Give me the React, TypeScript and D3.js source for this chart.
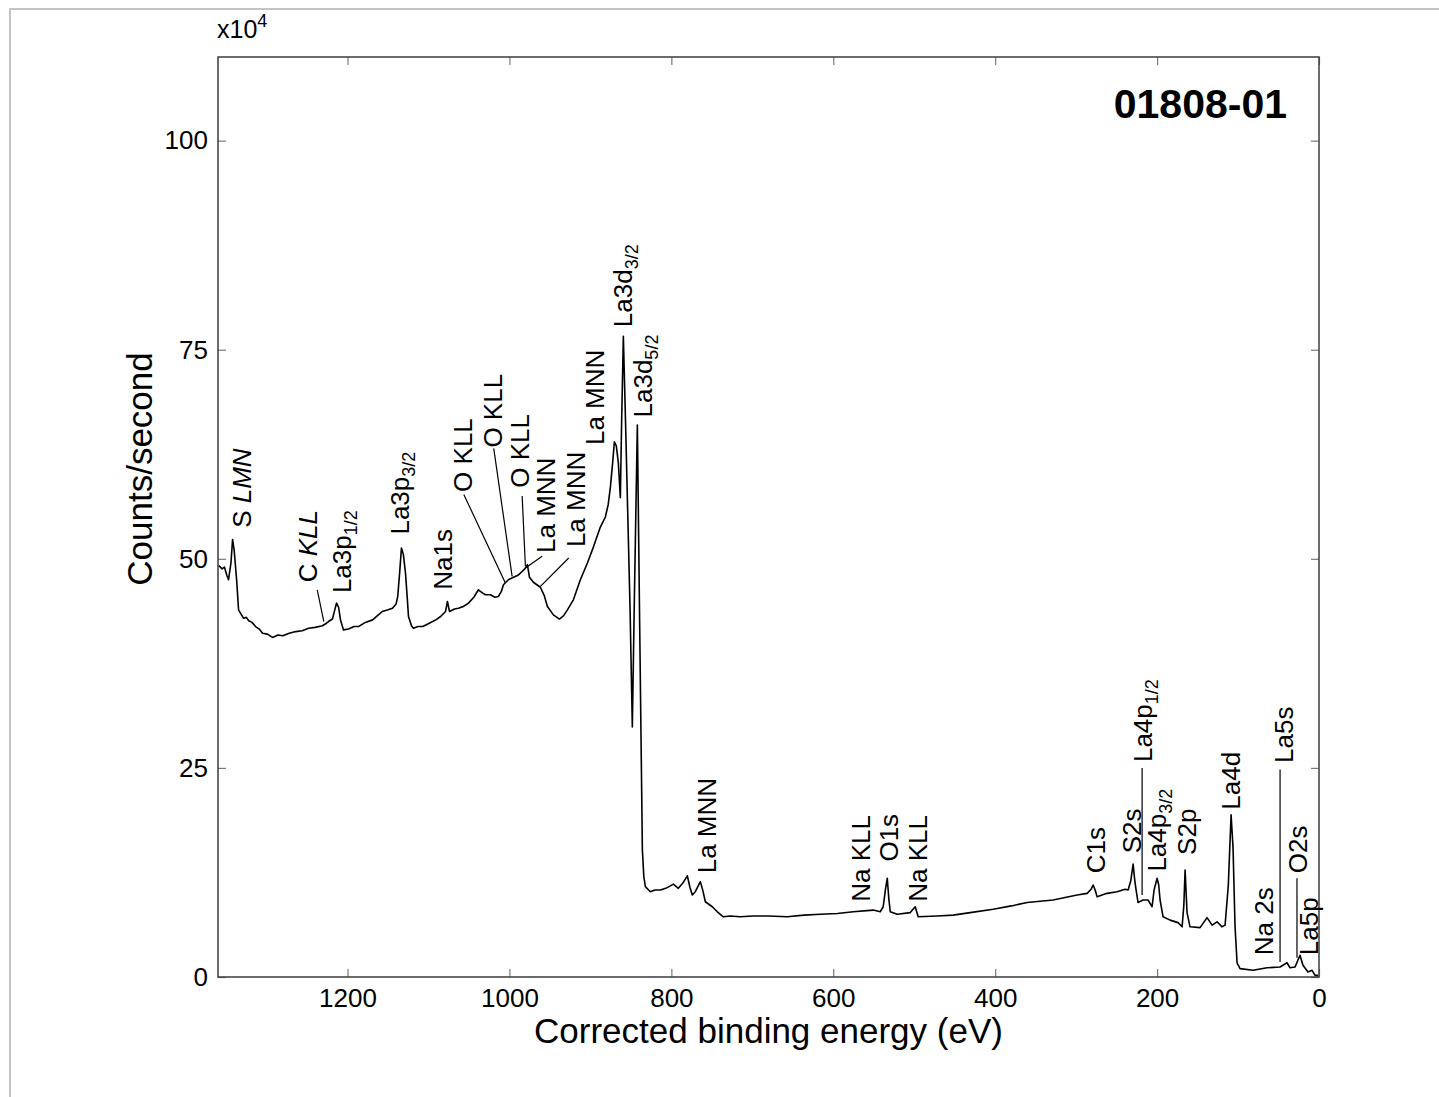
import React, { useEffect, useRef } from 'react'
import * as d3 from 'd3'

// survey spectrum: binding energy (eV) and intensity (x10^4 counts/second)
const bindingEnergy = [
  1359, 1355, 1352, 1349, 1347, 1344, 1342, 1340, 1337, 1334.6, 1331, 1328.4, 1325, 1322, 1318, 1313.6,
  1309, 1305, 1299, 1292.6, 1286, 1280, 1272, 1264, 1256, 1248, 1240, 1231, 1226, 1223.5, 1218.6, 1216,
  1213.6, 1211, 1208.7, 1205, 1198.8, 1192, 1186.5, 1178, 1169, 1163, 1157, 1150, 1144.5, 1140, 1138,
  1135.5, 1133.4, 1131, 1128.4, 1126, 1124.7, 1121, 1118.6, 1113, 1107, 1099, 1091, 1085, 1079, 1076.6,
  1074, 1068, 1063, 1057, 1050.6, 1044, 1038.3, 1033, 1029.6, 1023.5, 1018, 1013.6, 1010, 1007.4, 1001.3,
  995.1, 990, 986.4, 981, 977.8, 975.3, 970.4, 961.8, 957, 953.1, 945.7, 938.3, 933, 928.4, 921, 912.4,
  903.7, 896.3, 887.7, 881.5, 878, 875.3, 872.5, 870.4, 868, 865.5, 863, 861.5, 859.3, 856.5, 854.3, 851,
  848.2, 845.7, 842, 839.5, 837, 835.8, 834, 832.1, 826, 820, 813.6, 807, 801.2, 797.5, 791.4, 786, 780.3,
  777, 774.1, 770.4, 764.2, 761, 758, 749.4, 743.2, 735.8, 727.2, 715, 698.8, 680, 656.8, 636, 616, 595,
  575.3, 550.6, 542, 538.3, 535.5, 533.3, 531.5, 529.6, 521, 504.9, 498.8, 495.1, 471.6, 451.9, 430.9,
  402.5, 380, 360.5, 328.4, 298.8, 286.4, 281.5, 279, 276.5, 274.1, 268, 261.7, 249.4, 239.5, 235.8, 232.5,
  229.6, 227.5, 225.9, 223.5, 217.3, 211.1, 206.2, 203.7, 200, 198, 196.3, 192.6, 184, 174.1, 169.1, 167,
  165.4, 163, 159.3, 146.9, 138.3, 132.1, 125.9, 119.8, 116, 112, 108.6, 106.2, 103.7, 101.2, 97.5, 81.5,
  64.2, 48.1, 39.5, 35.8, 29.6, 23.5, 19.8, 13.6, 8.6, 4.9, 1.2,
]
const counts = [
  49.2, 48.8, 49.0, 48.0, 47.5, 49.5, 52.3, 51.0, 47.5, 43.9, 43.3, 42.9, 43.0, 42.6, 42.4, 41.9,
  41.6, 41.1, 41.0, 40.6, 40.9, 40.8, 41.1, 41.3, 41.4, 41.7, 41.8, 42.0, 42.3, 42.5, 42.8, 43.8,
  44.7, 44.2, 42.7, 41.5, 41.6, 41.9, 41.9, 42.4, 42.7, 43.2, 43.7, 43.9, 44.1, 44.6, 45.5,
  48.5, 51.3, 50.5, 48.3, 45.0, 43.1, 42.0, 41.7, 41.9, 41.9, 42.3, 42.7, 43.1, 43.7, 44.9,
  43.7, 44.0, 44.1, 44.3, 44.7, 45.4, 46.3, 45.9, 45.7, 45.7, 45.4, 45.5, 46.1, 46.9, 47.5,
  47.8, 48.0, 48.3, 48.8, 49.3, 47.8, 47.2, 46.6, 45.6, 44.3, 43.3, 42.8, 43.2, 43.9, 45.1, 47.5,
  49.5, 51.4, 53.8, 55.0, 56.5, 58.6, 61.5, 64.0, 63.5, 61.5, 57.3, 66.0, 76.6, 66.0, 57.1, 44.0,
  29.9, 45.1, 66.0, 45.1, 25.0, 15.2, 12.0, 10.8, 10.2, 10.4, 10.4, 10.6, 10.9, 11.1, 10.6, 11.2, 12.1,
  10.7, 9.8, 10.2, 11.4, 10.3, 9.0, 8.4, 7.8, 7.2, 7.3, 7.2, 7.3, 7.3, 7.2, 7.4, 7.5, 7.6,
  7.8, 8.0, 7.8, 8.4, 10.5, 11.8, 9.5, 7.8, 7.5, 7.7, 8.4, 7.2, 7.3, 7.4, 7.7,
  8.1, 8.5, 8.9, 9.2, 9.8, 10.0, 10.5, 11.0, 10.4, 9.6, 9.8, 10.0, 10.2, 10.5, 10.4, 11.5,
  13.5, 11.5, 10.4, 8.9, 9.2, 9.2, 8.4, 10.4, 11.8, 11.0, 9.2, 7.2, 6.8, 6.5, 6.0, 8.5,
  12.8, 7.7, 6.0, 5.9, 7.1, 6.2, 6.6, 6.0, 6.2, 11.0, 19.4, 15.5, 6.0, 1.7, 1.0, 0.8,
  1.1, 1.2, 1.7, 1.1, 1.2, 2.6, 1.4, 0.6, 0.8, 0.2, 0.2,
]

const xTicks = [1200, 1000, 800, 600, 400, 200, 0]
const yTicks = [0, 25, 50, 75, 100]

// peak labels: [name, italic part, subscript, eV, counts] (start of the rotated text)
const peakLabels: [string, string, string, number, number][] = [
  ['S ', 'LMN', '', 1319.8, 53.7],
  ['C ', 'KLL', '', 1237.1, 47.2],
  ['La3p', '', '1/2', 1195.1, 45.9],
  ['La3p', '', '3/2', 1123.5, 52.9],
  ['Na1s', '', '', 1070.4, 46.3],
  ['O KLL', '', '', 1045.7, 58.0],
  ['O KLL', '', '', 1008.7, 63.3],
  ['O KLL', '', '', 975.3, 58.5],
  ['La MNN', '', '', 943.2, 50.7],
  ['La MNN', '', '', 906.2, 51.4],
  ['La MNN', '', '', 882.7, 63.6],
  ['La3d', '', '3/2', 848.2, 77.7],
  ['La3d', '', '5/2', 823.5, 66.9],
  ['La MNN', '', '', 744.5, 12.4],
  ['Na KLL', '', '', 554.3, 9.0],
  ['O1s', '', '', 519.8, 13.8],
  ['Na KLL', '', '', 484.0, 9.0],
  ['C1s', '', '', 264.2, 12.4],
  ['S2s', '', '', 219.8, 14.8],
  ['La4p', '', '1/2', 206.2, 25.7],
  ['La4p', '', '3/2', 188.9, 12.6],
  ['S2p', '', '', 151.9, 14.6],
  ['La4d', '', '', 97.5, 20.0],
  ['La5s', '', '', 32.1, 25.6],
  ['Na 2s', '', '', 56.8, 2.6],
  ['O2s', '', '', 14.8, 12.4],
  ['La5p', '', '', 1.2, 2.6],
]

// leader lines: [eV1, counts1, eV2, counts2]
const leaderLines: [number, number, number, number][] = [
  [1237.4, 46.3, 1229.3, 42.5],
  [1056.4, 57.7, 1005.0, 47.1],
  [1019.4, 63.2, 996.7, 47.9],
  [984.3, 57.5, 980.3, 49.1],
  [959.6, 50.3, 980.3, 48.9],
  [926.8, 50.1, 961.7, 46.7],
  [218.5, 25.0, 218.5, 9.8],
  [48.1, 24.8, 48.1, 1.8],
  [27.2, 11.8, 27.2, 2.3],
]

const font = '"Liberation Sans", Arial, sans-serif'

const App = () => {
  const ref = useRef<SVGSVGElement>(null)
  const width = 1439
  const height = 1097
  const margin = { top: 57, right: 120, bottom: 120, left: 218 }

  useEffect(() => {
    const svg = d3.select(ref.current)
    svg.selectAll('*').remove()

    const x = d3.scaleLinear().domain([1360, 0]).range([margin.left, width - margin.right])
    const y = d3.scaleLinear().domain([0, 110]).range([height - margin.bottom, margin.top])

    // light frame of the figure
    svg.append('path').attr('d', `M10,${height} V9 H${width}`)
      .attr('fill', 'none').attr('stroke', '#c4c4c4').attr('stroke-width', 2)

    const styleAxis = (g: any) => {
      g.select('.domain').remove()
      g.selectAll('.tick line').attr('stroke', '#7a7a7a').attr('stroke-width', 1.2)
      g.selectAll('.tick text').attr('fill', '#000')
      g.attr('font-size', 26).attr('font-family', font)
    }

    svg.append('g').attr('transform', `translate(0,${y(0)})`)
      .call(d3.axisBottom(x).tickValues(xTicks).tickFormat(d3.format('d'))
        .tickSizeInner(-8).tickSizeOuter(0).tickPadding(12))
      .call(styleAxis)
    svg.append('g').attr('transform', `translate(0,${y(110)})`)
      .call(d3.axisTop(x).tickValues(xTicks).tickSizeInner(-8).tickSizeOuter(0).tickFormat(() => ''))
      .call(styleAxis)
    svg.append('g').attr('transform', `translate(${x(1360)},0)`)
      .call(d3.axisLeft(y).tickValues(yTicks).tickFormat(d3.format('d'))
        .tickSizeInner(-8).tickSizeOuter(0).tickPadding(10))
      .call(styleAxis)
    svg.append('g').attr('transform', `translate(${x(0)},0)`)
      .call(d3.axisRight(y).tickValues(yTicks).tickSizeInner(-8).tickSizeOuter(0).tickFormat(() => ''))
      .call(styleAxis)

    svg.append('rect')
      .attr('x', x(1360)).attr('y', y(110))
      .attr('width', x(0) - x(1360)).attr('height', y(0) - y(110))
      .attr('fill', 'none').attr('stroke', '#3c3c3c').attr('stroke-width', 1.5)

    const line = d3.line<number>()
      .x((_, i) => x(bindingEnergy[i]))
      .y(d => y(d))
    svg.append('path').attr('d', line(counts))
      .attr('fill', 'none').attr('stroke', '#000').attr('stroke-width', 1.6)
      .attr('stroke-linejoin', 'round')

    leaderLines.forEach(([e1, c1, e2, c2]) => {
      svg.append('line')
        .attr('x1', x(e1)).attr('y1', y(c1)).attr('x2', x(e2)).attr('y2', y(c2))
        .attr('stroke', '#000').attr('stroke-width', 1.2)
    })

    peakLabels.forEach(([name, italic, sub, be, cps]) => {
      const t = svg.append('text')
        .attr('transform', `translate(${x(be)},${y(cps)}) rotate(-90)`)
        .attr('font-family', font).attr('font-size', 26)
        .style('white-space', 'pre')
      t.append('tspan').text(name)
      if (italic) t.append('tspan').attr('font-style', 'italic').text(italic)
      if (sub) t.append('tspan').attr('font-size', 18).attr('dy', 6).text(sub)
    })

    // axis titles
    svg.append('text')
      .attr('transform', `translate(${margin.left - 66},${(y(0) + y(110)) / 2 - 48}) rotate(-90)`)
      .attr('text-anchor', 'middle').attr('font-family', font).attr('font-size', 35)
      .text('Counts/second')
    svg.append('text')
      .attr('x', (x(1360) + x(0)) / 2).attr('y', y(0) + 66)
      .attr('text-anchor', 'middle').attr('font-family', font).attr('font-size', 35)
      .text('Corrected binding energy (eV)')

    const exp = svg.append('text')
      .attr('x', margin.left - 1).attr('y', 38)
      .attr('font-family', font).attr('font-size', 25)
    exp.append('tspan').text('x10')
    exp.append('tspan').attr('font-size', 18).attr('dy', -11).text('4')

    svg.append('text')
      .attr('x', x(0) - 32).attr('y', y(110) + 61)
      .attr('text-anchor', 'end').attr('font-family', font).attr('font-size', 41)
      .attr('font-weight', 'bold')
      .text('01808-01')
  }, [])

  return (
    <svg ref={ref} width={width} height={height}
      style={{ position: 'absolute', left: 0, top: 0, background: '#fff' }} />
  )
}

export default App
